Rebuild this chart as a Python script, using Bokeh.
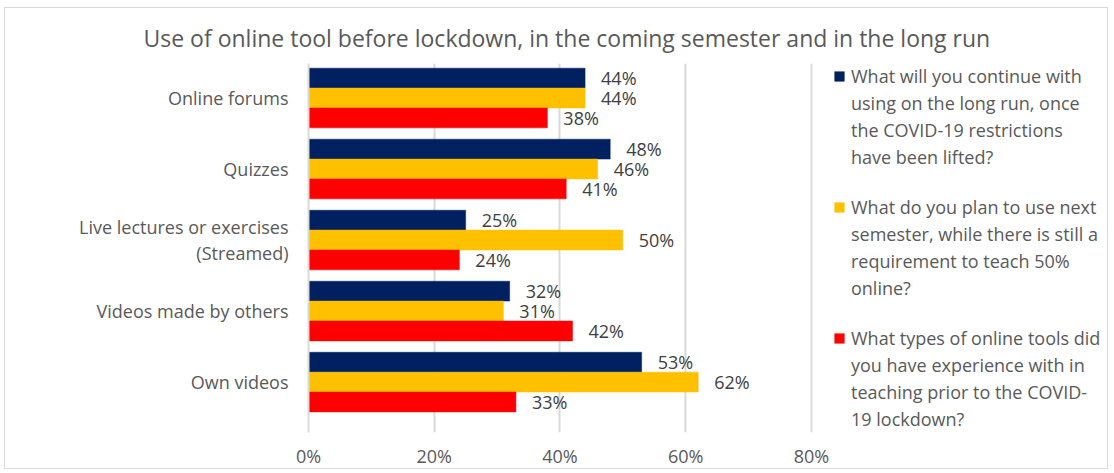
from bokeh.plotting import figure
from bokeh.models import ColumnDataSource, Legend, LegendItem, FixedTicker, Range1d
from bokeh.transform import dodge
from bokeh.core.properties import value
from bokeh.embed import file_html
from bokeh.resources import INLINE

categories = ["Online forums", "Quizzes", "Live lectures or exercises\n(Streamed)",
              "Videos made by others", "Own videos"]
long_run = [44, 48, 25, 32, 53]
next_semester = [44, 46, 50, 31, 62]
before_lockdown = [38, 41, 24, 42, 33]
series_lines = [
    ["What will you continue with", "using on the long run, once",
     "the COVID-19 restrictions", "have been lifted?"],
    ["What do you plan to use next", "semester, while there is still a",
     "requirement to teach 50%", "online?"],
    ["What types of online tools did", "you have experience with in",
     "teaching prior to the COVID-", "19 lockdown?"],
]
colors = ["#002060", "#FFC000", "#FF0000"]
x_ticks = [0, 20, 40, 60, 80]

FONT = "Open Sans"
FS = "18px"

# category slots: first category at the top
ypos = list(range(len(categories) - 1, -1, -1))

src = ColumnDataSource(dict(
    cat=ypos,
    a=long_run, b=next_semester, c=before_lockdown,
    la=[f"{v}%" for v in long_run],
    lb=[f"{v}%" for v in next_semester],
    lc=[f"{v}%" for v in before_lockdown],
))

# the frame extends past 80% to leave room for the legend on the right
p = figure(width=1104, height=462, output_backend="svg", toolbar_location=None,
           y_range=Range1d(-0.71, len(categories) - 1 + 0.486), x_range=Range1d(0, 126),
           min_border_left=303, min_border_right=9, min_border_top=55, min_border_bottom=27,
           title="Use of online tool before lockdown, in the coming semester and in the long run")
p.styles = {"border": "1px solid #d9d9d9", "margin-left": "4px", "margin-top": "7px"}

p.title.align = "left"
p.title.text_font = FONT
p.title.text_font_size = "23px"
p.title.text_font_style = "normal"
p.title.text_color = "#595959"
p.title.offset = -165
p.title.standoff = 20

h = 0.28
offs = [h, 0, -h]
fields = ["a", "b", "c"]
lfields = ["la", "lb", "lc"]
renderers = []
for f, lf, off, col in zip(fields, lfields, offs, colors):
    r = p.hbar(y=dodge("cat", off), right=f, left=0, height=h,
               source=src, fill_color=col, line_color=col, line_width=0.5)
    renderers.append(r)
    p.text(x=f, y=dodge("cat", off), text=lf, source=src,
           x_offset=16, text_baseline="middle", text_align="left",
           text_font=value(FONT), text_font_size=FS, text_color="#404040")

# invisible renderer for continuation lines and gaps of the legend
blank = p.hbar(y=[], right=[], left=0, height=h, fill_alpha=0, line_alpha=0)

items = []
for i, (r, lines) in enumerate(zip(renderers, series_lines)):
    if i > 0:
        items.append(LegendItem(label=" ", renderers=[blank]))
    items.append(LegendItem(label=lines[0], renderers=[r]))
    items += [LegendItem(label=t, renderers=[blank]) for t in lines[1:]]

lg = Legend(items=items, location=(525, 1), border_line_color=None,
            background_fill_alpha=0, label_text_font=FONT, label_text_font_size=FS,
            label_text_color="#595959", glyph_width=12, glyph_height=12,
            spacing=3, margin=0, padding=0, label_standoff=6, label_height=20,
            label_text_line_height=1.2)
p.add_layout(lg)

p.xaxis.ticker = FixedTicker(ticks=x_ticks)
p.xaxis.major_label_overrides = {v: f"{v}%" for v in x_ticks}
p.xaxis.axis_line_color = None
p.xaxis.major_tick_line_color = None
p.xaxis.minor_tick_line_color = None
p.xaxis.major_label_text_font = FONT
p.xaxis.major_label_text_font_size = FS
p.xaxis.major_label_text_color = "#595959"
p.xaxis.major_label_standoff = 5

p.yaxis.ticker = FixedTicker(ticks=ypos)
p.yaxis.major_label_overrides = {y: c for y, c in zip(ypos, categories)}
p.yaxis.axis_line_color = "#d9d9d9"
p.yaxis.axis_line_width = 2
p.yaxis.major_tick_line_color = None
p.yaxis.minor_tick_line_color = None
p.yaxis.major_label_text_font = FONT
p.yaxis.major_label_text_font_size = FS
p.yaxis.major_label_text_color = "#595959"
p.yaxis.major_label_text_line_height = 1.05
p.yaxis.major_label_standoff = 14

p.xgrid.grid_line_color = "#d9d9d9"
p.xgrid.grid_line_width = 2
p.ygrid.grid_line_color = None
p.outline_line_color = None

open("out.html", "w").write(file_html(p, INLINE))
